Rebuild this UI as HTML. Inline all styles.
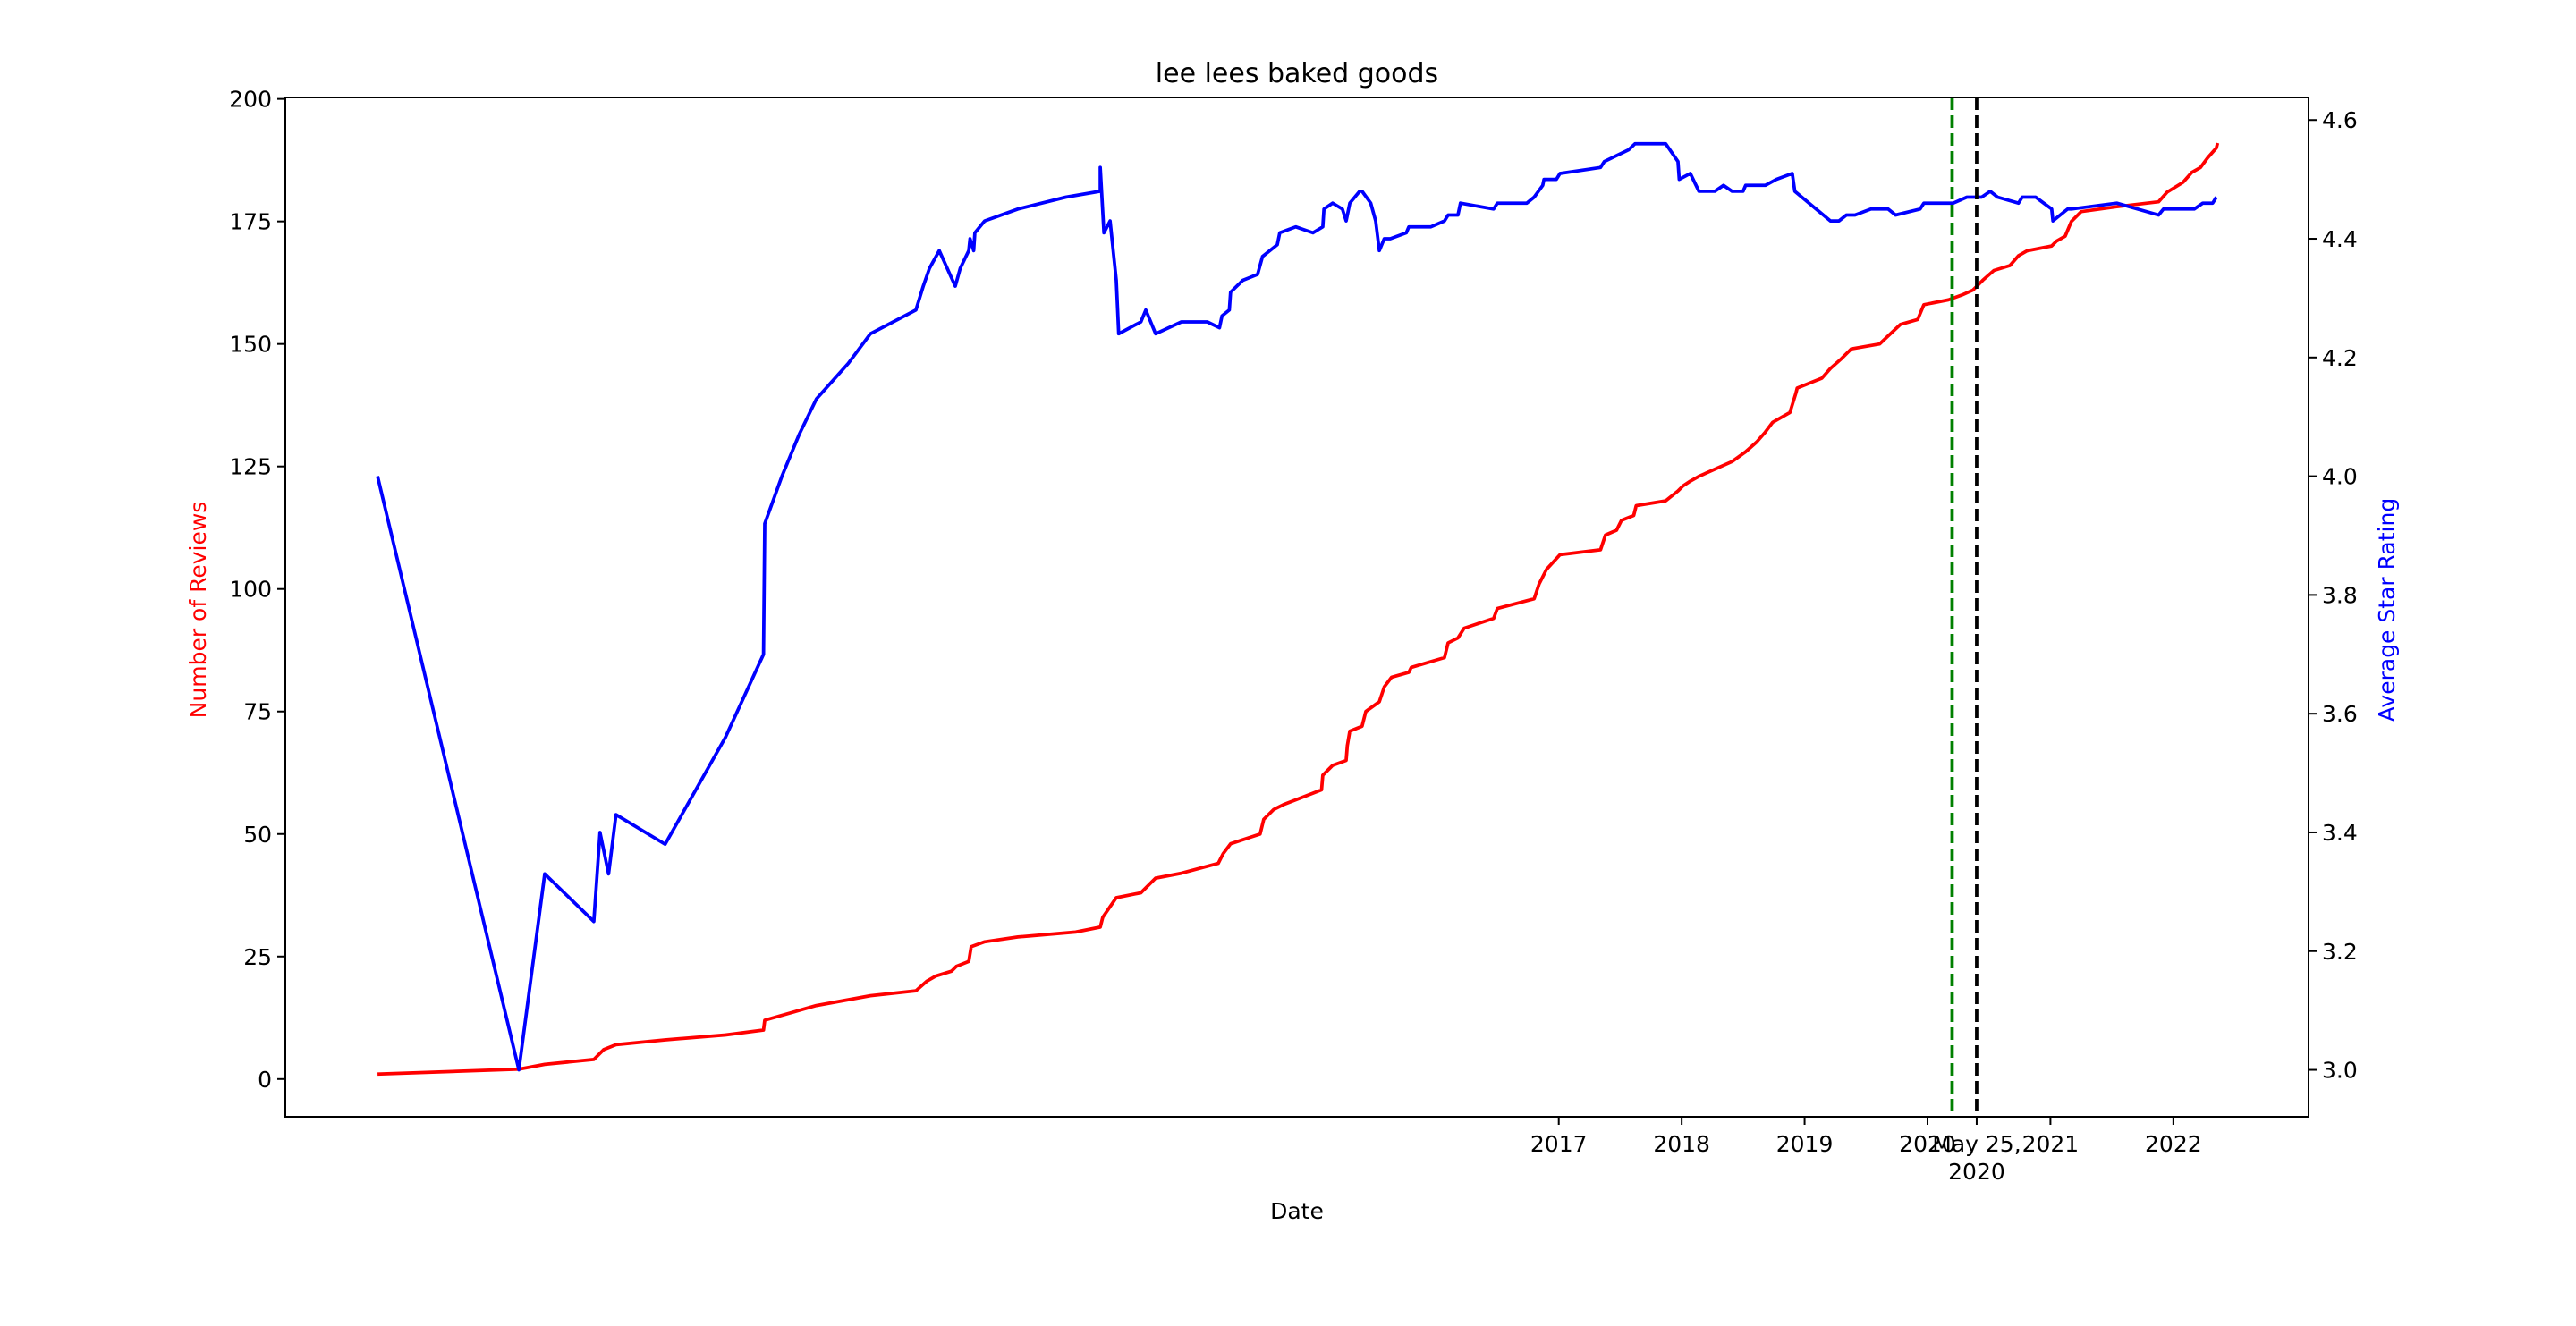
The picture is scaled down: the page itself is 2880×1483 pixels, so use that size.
<!DOCTYPE html>
<html><head><meta charset="utf-8"><style>
html,body{margin:0;padding:0;background:#fff;}
svg text{font-family:"DejaVu Sans","Liberation Sans",sans-serif;}
</style></head><body>
<svg id="chart" width="2880" height="1478" viewBox="0 0 2880 1478" xmlns="http://www.w3.org/2000/svg">
<rect x="0" y="0" width="2880" height="1478" fill="#fff"/>
<text x="1450" y="92" font-size="30" text-anchor="middle">lee lees baked goods</text>
<text x="1450" y="1363" font-size="25" text-anchor="middle">Date</text>
<text transform="translate(230,682) rotate(-90)" font-size="25" text-anchor="middle" fill="red">Number of Reviews</text>
<text transform="translate(2677,682) rotate(-90)" font-size="25" text-anchor="middle" fill="blue">Average Star Rating</text>
<g id="plot"></g>
</svg>
<script>
const reviewDates=[2007.39,2008.54,2008.75,2009.15,2009.23,2009.33,2009.73,2010.22,2010.53,2010.54,2010.96,2011.40,2011.77,2011.86,2011.93,2012.06,2012.10,2012.20,2012.22,2012.33,2012.60,2013.07,2013.27,2013.29,2013.40,2013.60,2013.72,2013.93,2014.23,2014.27,2014.33,2014.57,2014.60,2014.68,2014.76,2015.07,2015.08,2015.16,2015.27,2015.28,2015.30,2015.40,2015.43,2015.54,2015.58,2015.64,2015.78,2015.80,2016.07,2016.10,2016.18,2016.23,2016.47,2016.50,2016.80,2016.84,2016.90,2017.01,2017.34,2017.38,2017.47,2017.51,2017.61,2017.63,2017.87,2017.97,2018.01,2018.07,2018.14,2018.41,2018.52,2018.61,2018.68,2018.74,2018.88,2018.93,2018.94,2019.14,2019.21,2019.30,2019.38,2019.61,2019.78,2019.92,2019.97,2020.17,2020.28,2020.37,2020.45,2020.54,2020.67,2020.74,2020.81,2021.01,2021.05,2021.12,2021.17,2021.25,2021.54,2021.88,2021.95,2022.08,2022.15,2022.22,2022.28,2022.35,2022.36];
const reviewCounts=[1,2,3,4,6,7,8,9,10,12,15,17,18,20,21,22,23,24,27,28,29,30,31,33,37,38,41,42,44,46,48,50,53,55,56,59,62,64,65,68,71,72,75,77,80,82,83,84,86,89,90,92,94,96,98,101,104,107,108,111,112,114,115,117,118,120,121,122,123,126,128,130,132,134,136,140,141,143,145,147,149,150,154,155,158,159,160,161,163,165,166,168,169,170,171,172,175,177,178,179,181,183,185,186,188,190,191];
const ratingDates=[2007.39,2008.54,2008.75,2009.15,2009.20,2009.27,2009.33,2009.73,2010.22,2010.53,2010.54,2010.68,2010.82,2010.96,2011.22,2011.40,2011.77,2011.83,2011.88,2011.96,2012.09,2012.13,2012.20,2012.21,2012.24,2012.25,2012.33,2012.60,2012.99,2013.27,2013.27,2013.30,2013.35,2013.40,2013.42,2013.60,2013.64,2013.72,2013.93,2014.14,2014.24,2014.26,2014.32,2014.33,2014.43,2014.55,2014.59,2014.71,2014.73,2014.86,2015.00,2015.08,2015.09,2015.16,2015.24,2015.27,2015.30,2015.38,2015.40,2015.47,2015.51,2015.54,2015.58,2015.63,2015.76,2015.78,2015.96,2016.07,2016.10,2016.18,2016.20,2016.47,2016.50,2016.74,2016.80,2016.87,2016.88,2016.98,2017.01,2017.34,2017.37,2017.47,2017.57,2017.62,2017.87,2017.97,2017.98,2018.07,2018.14,2018.27,2018.34,2018.41,2018.50,2018.52,2018.68,2018.77,2018.90,2018.92,2019.21,2019.28,2019.34,2019.41,2019.54,2019.68,2019.74,2019.94,2019.97,2020.21,2020.32,2020.44,2020.51,2020.57,2020.74,2020.77,2020.88,2021.01,2021.02,2021.14,2021.17,2021.54,2021.88,2021.92,2022.17,2022.24,2022.32,2022.35];
const ratingValues=[4.00,3.00,3.33,3.25,3.40,3.33,3.43,3.38,3.56,3.70,3.92,4.00,4.07,4.13,4.19,4.24,4.28,4.32,4.35,4.38,4.32,4.35,4.38,4.40,4.38,4.41,4.43,4.45,4.47,4.48,4.52,4.41,4.43,4.33,4.24,4.26,4.28,4.24,4.26,4.26,4.25,4.27,4.28,4.31,4.33,4.34,4.37,4.39,4.41,4.42,4.41,4.42,4.45,4.46,4.45,4.43,4.46,4.48,4.48,4.46,4.43,4.38,4.40,4.40,4.41,4.42,4.42,4.43,4.44,4.44,4.46,4.45,4.46,4.46,4.47,4.49,4.50,4.50,4.51,4.52,4.53,4.54,4.55,4.56,4.56,4.53,4.50,4.51,4.48,4.48,4.49,4.48,4.48,4.49,4.49,4.50,4.51,4.48,4.43,4.43,4.44,4.44,4.45,4.45,4.44,4.45,4.46,4.46,4.47,4.47,4.48,4.47,4.46,4.47,4.47,4.45,4.43,4.45,4.45,4.46,4.44,4.45,4.45,4.46,4.46,4.47];
const yearTicks=[2017,2018,2019,2020,2021,2022];
const leftTicks=[0,25,50,75,100,125,150,175,200];
const rightTicks=[3.0,3.2,3.4,3.6,3.8,4.0,4.2,4.4,4.6];
const lockdownDate=2020.20;
const may25Date=2020.40;

const L=319,R=2581,T=109,B=1249;
const xMin=2006.64,xMax=2023.10;
const cMin=-7.7,cMax=200.3;
const rMin=2.921,rMax=4.638;
const X=v=>L+(v-xMin)/(xMax-xMin)*(R-L);
const YL=v=>B-(v-cMin)/(cMax-cMin)*(B-T);
const YR=v=>B-(v-rMin)/(rMax-rMin)*(B-T);
const NS='http://www.w3.org/2000/svg';
const g=document.getElementById('plot');
function mk(tag,attrs){const e=document.createElementNS(NS,tag);for(const k in attrs)e.setAttribute(k,attrs[k]);g.appendChild(e);return e;}

let d=reviewDates.map((t,i)=>(i?'L':'M')+X(t).toFixed(1)+','+YL(reviewCounts[i]).toFixed(1)).join('');
let p=mk('path',{d:d,fill:'none',stroke:'red','stroke-width':3.75,'stroke-linejoin':'round'});


d=ratingDates.map((t,i)=>(i?'L':'M')+X(t).toFixed(1)+','+YR(ratingValues[i]).toFixed(1)).join('');
p=mk('path',{d:d,fill:'none',stroke:'blue','stroke-width':3.75,'stroke-linejoin':'round'});



let v=mk('line',{x1:X(lockdownDate),x2:X(lockdownDate),y1:T,y2:B,stroke:'green','stroke-width':3.75,'stroke-dasharray':'14,6'});


v=mk('line',{x1:X(may25Date),x2:X(may25Date),y1:T,y2:B,stroke:'black','stroke-width':3.75,'stroke-dasharray':'14,6'});



let fr=mk('rect',{x:L,y:T,width:R-L,height:B-T,fill:'none',stroke:'#000','stroke-width':2});



yearTicks.forEach(y=>{
  const x=X(y);
  const t=mk('line',{x1:x,x2:x,y1:B,y2:B+9,stroke:'#000','stroke-width':2});
  
  
  const tx=mk('text',{x:x,y:B+39,'font-size':25,'text-anchor':'middle'});
  tx.textContent=y;
  
  
});
{
  const x=X(may25Date);
  const t=mk('line',{x1:x,x2:x,y1:B,y2:B+9,stroke:'#000','stroke-width':2});
  
  
  let tx=mk('text',{x:x,y:B+39,'font-size':25,'text-anchor':'middle'});
  tx.textContent='May 25,';
  
  
  tx=mk('text',{x:x,y:B+70,'font-size':25,'text-anchor':'middle'});
  tx.textContent='2020';
  
  
}
leftTicks.forEach(c=>{
  const y=YL(c);
  const t=mk('line',{x1:L-9,x2:L,y1:y,y2:y,stroke:'#000','stroke-width':2});
  
  
  const tx=mk('text',{x:L-15,y:y+9,'font-size':25,'text-anchor':'end'});
  tx.textContent=c;
  
  
});
rightTicks.forEach(r=>{
  const y=YR(r);
  const t=mk('line',{x1:R,x2:R+9,y1:y,y2:y,stroke:'#000','stroke-width':2});
  
  
  const tx=mk('text',{x:R+15,y:y+9,'font-size':25,'text-anchor':'start'});
  tx.textContent=r.toFixed(1);
  
  
});
</script>
</body></html>
